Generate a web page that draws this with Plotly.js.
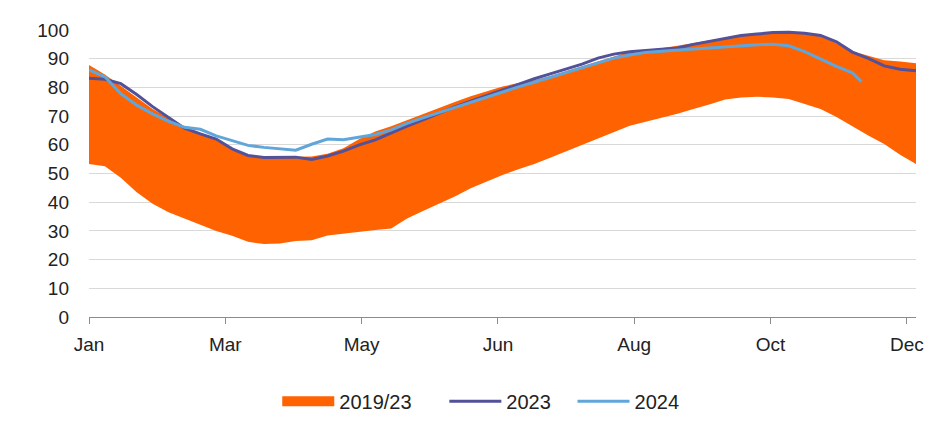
<!DOCTYPE html>
<html>
<head>
<meta charset="utf-8">
<script src="https://cdn.plot.ly/plotly-3.0.1.min.js"></script>
<style>
  html, body { margin: 0; padding: 0; background: #fff; }
  #chart { width: 952px; height: 437px; }
</style>
</head>
<body>
<div id="chart"></div>
<script>
// day of year, one reading per week
var days = [0, 7, 14, 21, 28, 35, 42, 49, 56, 63, 70, 77, 84, 91, 98, 105, 112, 119, 126, 133,
    140, 147, 154, 161, 168, 175, 182, 189, 196, 203, 210, 217, 224, 231, 238, 245, 252, 259, 266, 273,
    280, 287, 294, 301, 308, 315, 322, 329, 336, 343, 350, 357, 364];

// 2019/23 range, low and high
var rangeLow = [53.3, 52.5, 48.5, 43.5, 39.5, 36.5, 34.3, 32.2, 30, 28.3, 26.2, 25.4, 25.6, 26.5, 26.7, 28.4, 29.1, 29.6, 30.3, 30.8,
    34.3, 36.9, 39.4, 42, 44.9, 47.3, 49.5, 51.5, 53.3, 55.5, 57.7, 59.9, 62.2, 64.3, 66.6, 68, 69.3, 70.8, 72.5, 74,
    75.8, 76.5, 76.7, 76.5, 76, 74.2, 72.5, 69.7, 66.3, 63.2, 60.3, 56.5, 53.3];
var rangeHigh = [87.8, 84.5, 80.5, 76.5, 72.5, 69.3, 66, 64.2, 61.8, 58.6, 56.3, 55.7, 55.7, 55.7, 55.9, 56.9, 58.8, 62, 64.6, 66.5,
    68.6, 70.8, 73, 74.9, 76.9, 78.6, 80.3, 81.5, 82.5, 84, 85.7, 87.3, 89, 90.8, 92.4, 93, 93.6, 94.5, 95.4, 96.4,
    97.4, 98.3, 98.7, 99.1, 99.1, 99, 97.9, 95.4, 92.6, 91, 89.5, 89, 88.4];

var y2023 = [83.2, 82.8, 81.3, 77.5, 73.3, 69.6, 65.8, 63.8, 62, 58.6, 56.3, 55.6, 55.6, 55.7, 54.9, 56.1, 57.8, 60, 61.7, 64.2,
    66.5, 68.7, 71, 73.2, 75.2, 77.2, 79.1, 81.1, 83, 84.7, 86.4, 88.1, 90.2, 91.6, 92.4, 92.8, 93.2, 93.7, 95, 96.1,
    97.1, 98.1, 98.6, 99.1, 99.2, 98.9, 98.1, 95.9, 92.3, 90.1, 87.5, 86.3, 85.8];

var days2024 = [0, 7, 14, 21, 28, 35, 42, 49, 56, 63, 70, 77, 84, 91, 98, 105, 112, 119, 126, 133,
    140, 147, 154, 161, 168, 175, 182, 189, 196, 203, 210, 217, 224, 231, 238, 245, 252, 259, 266, 273,
    280, 287, 294, 301, 308, 315, 322, 329, 336, 340];
var y2024 = [86.1, 83.7, 77.8, 73.8, 70.8, 68.2, 66.1, 65.4, 63.1, 61.5, 59.8, 59.1, 58.5, 58.1, 60.2, 62, 61.8, 62.6, 63.6, 65.2,
    67.5, 69.4, 71.2, 73.1, 75, 76.7, 78.5, 80.2, 81.8, 83.5, 85.3, 86.9, 88.5, 90.2, 91.3, 92.2, 92.6, 93.1, 93.4, 93.7,
    94.1, 94.5, 94.9, 95, 94.5, 92.5, 89.8, 87.3, 85.1, 82];

var tickDays = [0, 60, 120, 180, 240, 300, 360];
var tickLabels = ['Jan', 'Mar', 'May', 'Jun', 'Aug', 'Oct', 'Dec'];

var orange = '#FF6200';
var nb = '\u00a0';

var traces = [
    {
        x: days, y: rangeLow, type: 'scatter', mode: 'lines',
        line: { width: 0, color: orange },
        showlegend: false, hoverinfo: 'skip'
    },
    {
        x: days, y: rangeHigh, type: 'scatter', mode: 'lines',
        fill: 'tonexty', fillcolor: orange,
        line: { width: 0, color: orange },
        showlegend: false, legendgroup: 'range'
    },
    // legend entry for the range (wide orange block)
    {
        x: [null], y: [null], type: 'scatter', mode: 'lines',
        name: '2019/23' + nb.repeat(5), legendgroup: 'range',
        line: { width: 12, color: orange }
    },
    {
        x: days, y: y2023, type: 'scatter', mode: 'lines',
        name: '2023' + nb.repeat(3), line: { width: 3, color: '#525199' }
    },
    {
        x: days2024, y: y2024, type: 'scatter', mode: 'lines',
        name: '2024', line: { width: 3, color: '#60A6DA' }
    }
];

var layout = {
    width: 952,
    height: 437,
    margin: { l: 89, r: 36, t: 30, b: 120 },
    paper_bgcolor: '#fff',
    plot_bgcolor: '#fff',
    font: { family: 'Liberation Sans, Arial, sans-serif', size: 19, color: '#222' },
    showlegend: true,
    legend: {
        orientation: 'h', xref: 'container', yref: 'container',
        x: 0.505, xanchor: 'center', y: 0.082, yanchor: 'middle',
        font: { size: 20, color: '#222' }, itemwidth: 52, traceorder: 'normal'
    },
    xaxis: {
        range: [0, 364],
        tickvals: tickDays, ticktext: tickLabels,
        showgrid: false, zeroline: false,
        showline: true, linecolor: '#8c8c8c', linewidth: 1,
        ticks: 'outside', ticklen: 6, tickcolor: '#8c8c8c',
        ticklabelstandoff: 4,
        fixedrange: true
    },
    yaxis: {
        range: [0, 100],
        dtick: 10,
        showgrid: true, gridcolor: '#d9d9d9', gridwidth: 1,
        zeroline: false, showline: false,
        ticks: '', ticklabelstandoff: 19,
        fixedrange: true
    }
};

Plotly.newPlot('chart', traces, layout, { displayModeBar: false, staticPlot: true });
</script>
</body>
</html>
